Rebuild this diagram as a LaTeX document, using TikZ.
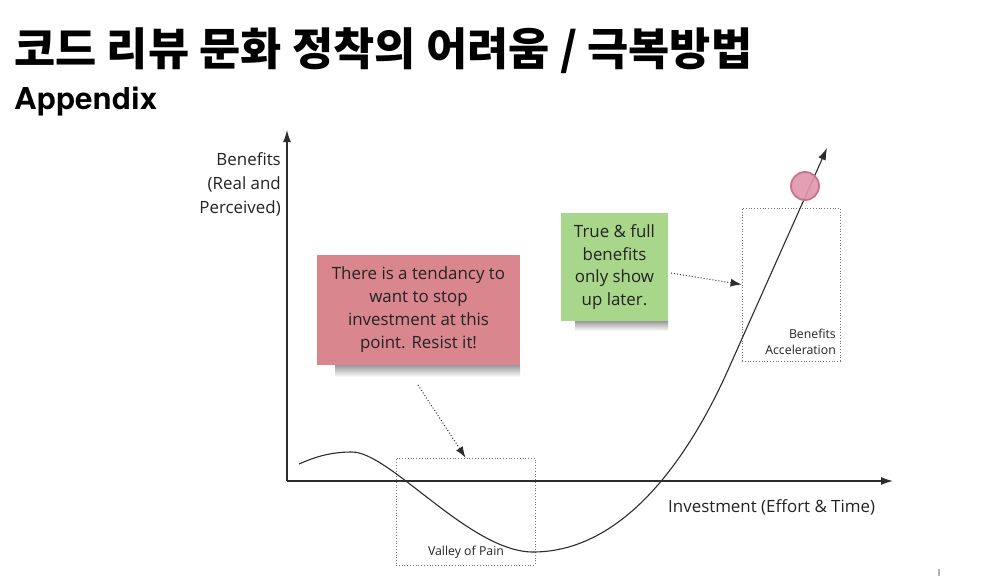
\documentclass[tikz,border=0pt]{standalone}
\usepackage{graphicx}
\usepackage{fontspec}
\setmainfont{Open Sans}
\newfontfamily\kr{Noto Sans CJK KR}
\newfontfamily\heros{TeX Gyre Heros}
\usetikzlibrary{arrows.meta}
\definecolor{notered}{RGB}{218,134,143}
\definecolor{notegreen}{RGB}{168,214,138}
\definecolor{dotfill}{RGB}{222,150,172}
\definecolor{dotline}{RGB}{205,112,142}
\definecolor{axis}{RGB}{45,45,45}
\definecolor{txt}{RGB}{35,35,35}
\tikzset{
  axisline/.style={draw=axis, line width=1.3pt, -{Latex[length=12pt,width=8pt]}},
  curveline/.style={draw=axis, line width=1.1pt},
  pointer/.style={draw=axis, line width=1pt, dotted, -{Latex[length=11pt,width=8pt]}},
  zonebox/.style={draw=black!55, line width=0.8pt, dotted, inner sep=0pt},
  note/.style={inner sep=0pt, align=center, text=txt, font=\fontsize{16.9pt}{23pt}\selectfont},
  lbl/.style={inner sep=0pt, text=txt, font=\fontsize{16.9pt}{24pt}\selectfont},
  small/.style={inner sep=0pt, text=txt, font=\fontsize{12.3pt}{16pt}\selectfont},
}
\begin{document}
\begin{tikzpicture}[x=1pt,y=-1pt]
\useasboundingbox[fill=white] (0,0) rectangle (984,581);

% titles
\node[anchor=north west, inner sep=0pt] (title) at (14,27)
  {\resizebox*{738pt}{46pt}{\kr\bfseries 코드 리뷰 문화 정착의 어려움 / 극복방법}};
\node[anchor=north west, inner sep=0pt] (app) at (14,87)
  {\resizebox*{143pt}{29pt}{\heros\bfseries Appendix}};

% axes
\coordinate (o) at (287,481);
\coordinate (ytip) at (287,130);
\coordinate (xtip) at (893,481);
\draw[axisline] (o) -- (ytip);
\draw[axisline] (o) -- (xtip);

\node[lbl, anchor=east, align=right] (ylab) at (281,184) {Benefits\\(Real and\\Perceived)};
\node[lbl, anchor=west] (xlab) at (668,507) {Investment (Effort \& Time)};

% zones
\node[zonebox, minimum width=139pt, minimum height=107pt] (valley) at (465.5,511.5) {};
\node[small, anchor=center] (vlab) at (466,552) {Valley of Pain};
\node[zonebox, minimum width=98pt, minimum height=153pt] (accel) at (791,284.5) {};
\node[small, anchor=south east, align=right] (alab) at (836,355) {Benefits\\Acceleration};

% curve
\coordinate (c0) at (299,464);
\coordinate (cpeak) at (352,452);
\coordinate (cmin) at (533,552);
\coordinate (cup) at (728,370);
\coordinate (ctip) at (827,148);
\draw[curveline] (c0) .. controls (315,457) and (330,452) .. (cpeak)
  .. controls (390,452) and (470,552) .. (cmin)
  .. controls (625,552) and (690,455) .. (cup);
\draw[curveline, -{Latex[length=12pt,width=8pt]}] (cup) -- (ctip);

% highlight dot
\node[circle, fill=dotfill, draw=dotline, line width=1.8pt, minimum size=28pt, inner sep=0pt, fill opacity=0.9] (dot) at (805,186) {};

% shadows
\shade[top color=black!40, bottom color=white] (335,365) rectangle (520,377);
\shade[top color=black!40, bottom color=white] (575,321) rectangle (668,331);

% notes
\node[note, fill=notered, minimum width=203pt, minimum height=110pt] (red) at (418.5,310)
  {There is a tendancy to\\want to stop\\investment at this\\point. Resist it!};
\node[note, fill=notegreen, minimum width=107pt, minimum height=108pt, font=\fontsize{16.9pt}{22.5pt}\selectfont] (green) at (614.5,267)
  {True \& full\\benefits\\only show\\up later.};

% pointers
\coordinate (rstart) at (418,385);
\draw[pointer] (rstart) -- (valley.north);
\coordinate (gstart) at (671,273);
\draw[pointer] (gstart) -- (accel.west);

% small mark
\fill[black!30] (938,569) rectangle (940,576);
\end{tikzpicture}
\end{document}
